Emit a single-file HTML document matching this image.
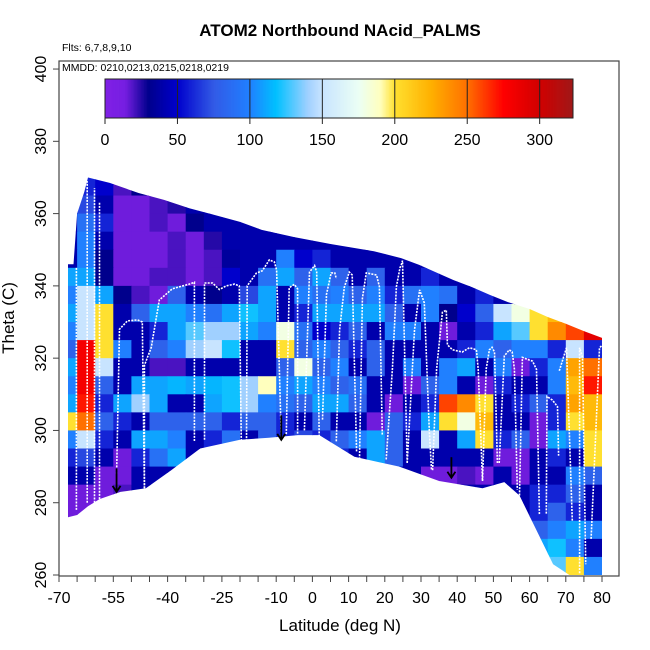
<!DOCTYPE html>
<html><head><meta charset="utf-8"><style>
html,body{margin:0;padding:0;background:#fff;}
svg{display:block;font-family:"Liberation Sans",sans-serif;}
</style></head><body>
<svg id="chart" width="650" height="650" viewBox="0 0 650 650" xmlns="http://www.w3.org/2000/svg">
<text x="340" y="36" text-anchor="middle" font-size="17" font-weight="bold">ATOM2 Northbound NAcid_PALMS</text>
<text x="62" y="51" font-size="10.5">Flts: 6,7,8,9,10</text>
<text x="340" y="631" text-anchor="middle" font-size="17">Latitude (deg N)</text>
<text x="14" y="318" text-anchor="middle" font-size="17" transform="rotate(-90 14 318)">Theta (C)</text>
<g id="heat"></g>
<g id="profiles"></g>
<g id="arrows"></g>
<g id="axes"></g>
<rect x="59" y="61" width="560" height="515" fill="none" stroke="#444" stroke-width="1.2"/>
<text x="62" y="71" font-size="10.5">MMDD: 0210,0213,0215,0218,0219</text>
<g id="cbar"></g>
</svg>
<script>
const xTicks=[-70,-65,-60,-55,-50,-45,-40,-35,-30,-25,-20,-15,-10,-5,0,5,10,15,20,25,30,35,40,45,50,55,60,65,70,75,80];
const xTickLabels=[-70,-55,-40,-25,-10,0,10,20,30,40,50,60,70,80];
const yTicks=[260,280,300,320,340,360,380,400];
const cbTicks=[0,50,100,150,200,250,300];
const colLat0=-70, colWidth=5;
const rowTop0=370, rowHeight=5;
const topLat=[-67.5,-66,-65,-63,-62,-56,-48,-41,-34,-27,-20,-14,-5,5,17,24.5,29.5,34,39,44,49,54,60,65,70,75,80];
const topTh=[346,346,360,366,370,368.5,365.7,363.8,361.5,359.6,357.7,355.5,353.5,351.6,349.6,347.7,345.8,343.8,341.6,339.7,337.5,335.5,333.6,331.4,329.5,327.5,325.6];
const botLat=[80,71,66.5,57.2,53,47,35,24,11.6,1.9,-4,-12,-20,-31,-39,-46,-53,-58.8,-62,-65,-67.5];
const botTh=[260,260,263,282,285.7,284,286,290,292.7,298.7,298.7,298,297.4,295,289,284,283,281,279,276.6,276];
const values=[
[40,60,50,20,30,40,40,40,40,40,40,40,40,40,40,40,40,40,40,40,40,40,40,40,40,40,40,40,40,40],
[40,70,40,15,15,20,25,40,40,40,40,40,40,40,40,40,40,40,40,40,40,40,40,40,40,40,40,40,40,40],
[40,90,60,15,15,20,15,30,40,40,40,40,40,40,40,40,40,40,40,40,40,40,40,40,40,40,40,40,40,40],
[40,100,40,15,15,15,20,15,25,40,40,40,40,40,40,40,40,40,40,40,40,40,40,40,40,40,40,40,40,40],
[40,100,30,15,15,15,20,15,20,35,40,40,100,50,60,40,40,40,40,40,40,40,40,40,40,40,40,40,40,40],
[110,110,30,15,15,20,20,15,20,50,40,90,110,80,110,80,40,80,40,40,60,40,40,40,40,40,40,40,40,40],
[100,150,110,30,20,15,80,40,30,40,70,110,40,100,90,100,80,100,60,90,100,90,40,60,40,40,40,40,40,40],
[110,150,200,40,80,110,110,100,90,110,120,110,40,60,110,110,110,110,80,40,100,30,50,80,150,180,200,220,240,260],
[100,150,200,40,40,60,110,130,140,140,110,100,180,90,50,60,80,40,100,100,40,15,40,60,110,130,200,240,260,290],
[80,280,200,100,40,80,100,140,150,120,40,40,200,80,100,80,60,80,40,40,40,40,60,100,80,100,100,60,150,60],
[110,280,150,40,40,20,20,40,40,40,40,40,80,180,80,100,40,80,40,100,40,100,110,40,100,15,60,100,230,250],
[100,280,80,40,110,110,115,110,115,120,140,190,100,110,100,80,90,40,40,15,80,100,40,15,60,40,40,100,220,270],
[110,270,60,110,140,110,40,40,110,120,140,100,90,80,110,110,80,40,15,40,60,260,240,200,40,60,80,60,230,220],
[200,250,80,60,40,80,80,80,80,60,80,80,60,40,80,40,40,15,80,60,110,200,180,220,40,40,15,60,200,220],
[100,150,60,40,110,110,100,40,60,90,40,80,60,70,60,80,100,110,80,40,150,40,110,200,60,80,15,110,100,200],
[60,70,40,15,60,90,110,40,40,40,40,40,40,40,40,60,40,110,80,40,40,40,40,40,15,15,40,60,40,200],
[40,40,15,15,40,40,40,40,40,40,40,40,40,40,40,40,40,40,40,40,15,15,20,15,40,15,40,40,100,80],
[15,15,15,20,40,40,40,40,40,40,40,40,40,40,40,40,40,40,40,40,40,40,40,40,40,40,60,60,80,40],
[15,15,40,40,40,40,40,40,40,40,40,40,40,40,40,40,40,40,40,40,40,40,40,40,40,40,60,80,60,40],
[15,40,40,40,40,40,40,40,40,40,40,40,40,40,40,40,40,40,40,40,40,40,40,40,40,60,80,100,110,100],
[40,40,40,40,40,40,40,40,40,40,40,40,40,40,40,40,40,40,40,40,40,40,40,40,40,40,110,120,100,40],
[40,40,40,40,40,40,40,40,40,40,40,40,40,40,40,40,40,40,40,40,40,40,40,40,40,40,140,130,200,100]
];
const profLat=[
[-65.2,-65.2],[-62.2,-62.2],[-60.2,-60.2],[-58.8,-58.8],
[-54.1,-53.3,-51.1,-48.3,-47,-46.4],
[-46.4,-46.4,-44.5,-42.3,-38.7,-34,-32.6,-32.6],
[-29.8,-29.8,-27.6,-25.7,-23.8,-21.5,-20.2,-19.6],
[-18.2,-18,-15.5,-13.8,-11.9,-10.5,-9.9,-8.6],
[-7.2,-6.4,-5,-4.1,-4.1],
[-2.2,-0.8,0.6,1.2,1.9],
[2.8,3.9,5.2,6.2,6.6],
[6.6,7.5,8.8,10.2,11,12.2],
[13,13.8,14.9,17.7,18.5,19.3],
[20.4,22.1,23.2,24.2,24.6,24.9,26.2],
[26.2,28.2,29.6,30.9,32.3,32.9],
[33.2,34.3,35.9,37,37.3,38.7,41.4,43.4,45.3,45.8,47],
[47,48,48.9,49.6,50.3,51.1],
[51.6,53,54.4,55.2,55.8,56.6],
[57.2,58,59.9,60.8,61.9,62.7],
[64.6,64.8,66.3,67.7,68],
[68.2,70.2,71.8],
[73.8,73.8,74.6,75.5],
[77,79.3,80]
];
const profTh=[
[278,345],[280,369],[280,367],[281,363],
[288,328,330.3,330.6,330,284],
[284,318,323,336.1,339.2,340.5,341,297],
[297.4,340.8,340.8,339,340,340.5,340,295],
[297,340,343.5,344.2,347.2,346.6,344.4,297.4],
[299,339.5,340.4,339.2,299],
[300,343.8,345.6,343.8,297],
[303,337.7,343.6,343.6,342],
[297,327.8,339.6,343.8,343,294],
[292,336.6,343.6,343,339.8,298.6],
[292,317,339.8,345,346,347,291],
[291,327.8,338.9,335.3,300,289.2],
[289,317,332.7,333.3,323.7,322.3,321.7,322.9,322.3,317,286],
[286,317,322.3,323,321.7,291],
[291,320.6,322.3,321.7,317,283.6],
[282,320.2,319.5,319.2,316.9,276.7],
[277,309.4,308.4,306.6,293],
[316.5,322.9,275],
[260.5,322.9,320.2,263],
[270,322.9,323.5]
];
const arrowLat=[-54.1,-8.6,38.4];
const arrowTop=[289.5,304.2,292.6];
const arrowBot=[283,297.4,286.9];

const NS='http://www.w3.org/2000/svg';
const X0=59, XS=3.62, Y0=575, YS=3.614;
function xs(lat){return X0+(lat+70)*XS;}
function ys(th){return Y0-(th-260)*YS;}
const stops=[[0,[128,32,230]],[14,[118,30,225]],[30,[0,0,140]],[50,[0,0,204]],[75,[50,90,230]],[100,[32,128,255]],[118,[0,192,255]],[140,[160,208,255]],[150,[200,228,255]],[175,[235,255,245]],[190,[255,255,190]],[200,[255,224,48]],[225,[255,176,0]],[250,[255,112,0]],[275,[255,0,0]],[300,[208,0,0]],[323,[160,24,24]]];
function cmap(v){
  if(v<=stops[0][0])return 'rgb('+stops[0][1]+')';
  for(let i=1;i<stops.length;i++){
    if(v<=stops[i][0]){const a=stops[i-1],b=stops[i];const t=(v-a[0])/(b[0]-a[0]);
      const c=a[1].map((q,k)=>Math.round(q+(b[1][k]-q)*t));return 'rgb('+c.join(',')+')';}
  }
  return 'rgb('+stops[stops.length-1][1]+')';
}
function mk(tag,attrs,parent){const e=document.createElementNS(NS,tag);for(const k in attrs)e.setAttribute(k,attrs[k]);parent.appendChild(e);return e;}
const svg=document.getElementById('chart');
const defs=mk('defs',{},svg);
const cp=mk('clipPath',{id:'dataclip'},defs);
let pts=[];
topLat.forEach((l,i)=>pts.push(xs(l).toFixed(1)+','+ys(topTh[i]).toFixed(1)));
botLat.forEach((l,i)=>pts.push(xs(l).toFixed(1)+','+ys(botTh[i]).toFixed(1)));
mk('polygon',{points:pts.join(' ')},cp);
const heat=document.getElementById('heat');
heat.setAttribute('clip-path','url(#dataclip)');
values.forEach((row,r)=>{
  row.forEach((v,c)=>{
    const l0=colLat0+c*colWidth, t1=rowTop0-r*rowHeight;
    const x=xs(l0), y=ys(t1);
    const cell=mk('rect',{x:x.toFixed(2),y:y.toFixed(2),width:(colWidth*XS+0.6).toFixed(2),height:(rowHeight*YS+0.6).toFixed(2),fill:cmap(v)},heat);
    
    
  });
});
const prof=document.getElementById('profiles');
profLat.forEach((la,i)=>{
  const p=la.map((l,k)=>xs(l).toFixed(1)+','+ys(profTh[i][k]).toFixed(1)).join(' ');
  const pl=mk('polyline',{points:p,fill:'none',stroke:'#fff','stroke-width':'1.6','stroke-dasharray':'2 1.2'},prof);
  
  
});
const arr=document.getElementById('arrows');
arrowLat.forEach((l,i)=>{
  const x=xs(l), y1=ys(arrowTop[i]), y2=ys(arrowBot[i]);
  const g=mk('g',{stroke:'#000','stroke-width':'1.8',fill:'none'},arr);
  
  
  mk('line',{x1:x,y1:y1,x2:x,y2:y2},g);
  mk('polyline',{points:(x-4)+','+(y2-6)+' '+x+','+y2+' '+(x+4)+','+(y2-6)},g);
});
const ax=document.getElementById('axes');
xTicks.forEach(t=>{
  const tk=mk('line',{x1:xs(t),x2:xs(t),y1:576,y2:582,stroke:'#444','stroke-width':'1'},ax);
  
  
});
xTickLabels.forEach(t=>{
  const tx=mk('text',{x:xs(t),y:603,'text-anchor':'middle','font-size':'16'},ax);
  tx.textContent=t;
  
  
});
yTicks.forEach(t=>{
  const y=ys(t);
  const tk=mk('line',{x1:53,x2:59,y1:y,y2:y,stroke:'#444','stroke-width':'1'},ax);
  
  
  const tx=mk('text',{x:46,y:y,'text-anchor':'middle','font-size':'16',transform:'rotate(-90 46 '+y+')'},ax);
  tx.textContent=t;
  
  
});
const cb=document.getElementById('cbar');
const CB0=105, CBS=468/323, CBT=79, CBH=39;
for(let v=0;v<323;v+=1){
  mk('rect',{x:(CB0+v*CBS).toFixed(2),y:CBT,width:(CBS+0.4).toFixed(2),height:CBH,fill:cmap(v+0.5)},cb);
}
mk('rect',{x:CB0,y:CBT,width:468,height:CBH,fill:'none',stroke:'#222','stroke-width':'1'},cb);
cbTicks.forEach(t=>{
  const x=CB0+t*CBS;
  if(t>0)mk('line',{x1:x,x2:x,y1:CBT,y2:CBT+CBH,stroke:'#222','stroke-width':'1'},cb);
  const tk=mk('line',{x1:x,x2:x,y1:CBT+CBH,y2:CBT+CBH+6,stroke:'#222','stroke-width':'1'},cb);
  
  
  const tx=mk('text',{x:x,y:145,'text-anchor':'middle','font-size':'16'},cb);
  tx.textContent=t;
  
  
});
</script>
</body></html>
